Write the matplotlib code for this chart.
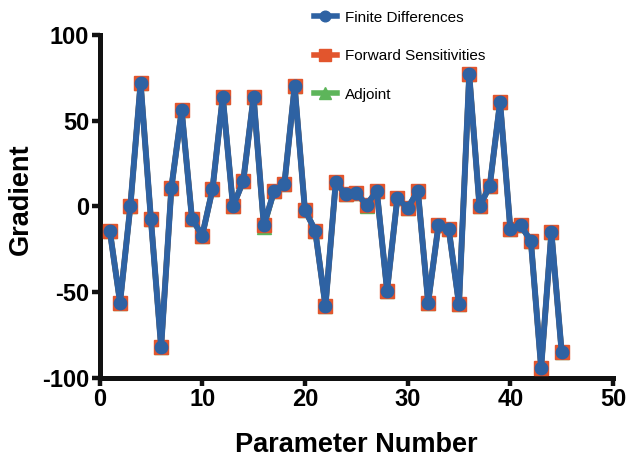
import matplotlib
matplotlib.use("Agg")
import matplotlib.pyplot as plt

plt.rcParams["font.family"] = ["Liberation Sans", "DejaVu Sans"]
plt.rcParams["axes.unicode_minus"] = False

params = list(range(1, 46))
finite_diff = [-14, -56, 0, 72, -7, -82, 11, 56, -7, -17,
               10, 64, 0, 15, 64, -11, 9, 13, 70, -2,
               -14, -58, 14, 7, 8, 1, 9, -49, 5, -1,
               9, -56, -11, -13, -57, 77, 0, 12, 61, -13,
               -11, -20, -94, -15, -85]
forward_sens = [-14, -56, 0, 72, -7, -82, 11, 56, -7, -17,
                10, 64, 0, 15, 64, -11, 9, 13, 70, -2,
                -14, -58, 14, 7, 8, 1, 9, -49, 5, -1,
                9, -56, -11, -13, -57, 77, 0, 12, 61, -13,
                -11, -20, -94, -15, -85]
adjoint = [-14, -56, 0, 72, -7, -82, 11, 56, -7, -17,
           10, 64, 0, 15, 64, -12, 9, 13, 70, -2,
           -14, -58, 14, 7, 8, 0.5, 9, -49, 5, -1,
           9, -56, -11, -13, -57, 77, 0, 12, 61, -13,
           -11, -20, -94, -15, -85]
x_ticks = [0, 10, 20, 30, 40, 50]
y_ticks = [-100, -50, 0, 50, 100]

blue = "#2E62A3"
orange = "#E2552D"
green = "#5DB55A"

fig = plt.figure(figsize=(6.29, 4.63), dpi=100)
ax = fig.add_axes([0.1582, 0.1836, 0.8164, 0.7408])

ax.plot(params, adjoint, color=green, lw=4, marker="^", ms=10, label="Adjoint", zorder=2)
ax.plot(params, forward_sens, color=orange, lw=4, marker="s", ms=10, label="Forward Sensitivities", zorder=3)
ax.plot(params, finite_diff, color=blue, lw=4.3, marker="o", ms=9, label="Finite Differences", zorder=4)

ax.set_xlim(0, 50)
ax.set_ylim(-100, 100)
ax.set_xticks(x_ticks)
ax.set_yticks(y_ticks)
for s in ["top", "right"]:
    ax.spines[s].set_visible(False)
for s in ["left", "bottom"]:
    ax.spines[s].set_linewidth(3.6)
    ax.spines[s].set_color("#111111")
ax.tick_params(width=3.2, length=5.5, labelsize=17, color="#111111", pad=2)
for lab in ax.get_xticklabels() + ax.get_yticklabels():
    lab.set_fontweight("bold")
ax.set_xlabel("Parameter Number", fontsize=19.5, fontweight="bold", labelpad=15)
ax.set_ylabel("Gradient", fontsize=19.5, fontweight="bold")
ax.yaxis.set_label_coords(-0.127, 0.52)

h, l = ax.get_legend_handles_labels()
order = [2, 1, 0]
leg = fig.legend([h[i] for i in order], [l[i] for i in order], loc="upper left",
                 bbox_to_anchor=(306 / 629, 1 - 3 / 463), frameon=False, fontsize=11,
                 labelspacing=1.6, handlelength=1.5, handletextpad=0.55, borderpad=0,
                 markerscale=0.85)
for lh in leg.legend_handles:
    lh.set_linewidth(4)

fig.savefig("out.png", dpi=100)
